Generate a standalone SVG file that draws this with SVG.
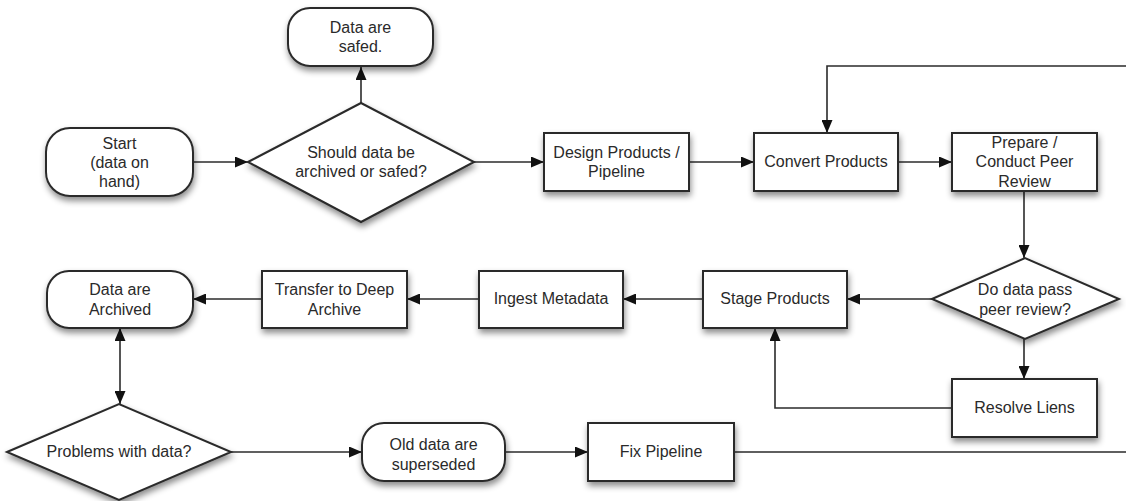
<svg xmlns="http://www.w3.org/2000/svg" width="1126" height="501" viewBox="0 0 1126 501">
<style>
.n{fill:#fff;stroke:#2b2b2b;stroke-width:2;filter:url(#sh)}
.t{font-family:"Liberation Sans",Arial,sans-serif;font-size:16px;fill:#2a2a2a;text-anchor:middle}
.c{fill:none;stroke:#2b2b2b;stroke-width:1.6;marker-end:url(#ah)}
.nc{fill:none;stroke:#2b2b2b;stroke-width:1.6}
</style>
<defs>
<filter id="sh" x="-20%" y="-20%" width="140%" height="160%">
<feDropShadow dx="1" dy="4" stdDeviation="3" flood-color="#000" flood-opacity="0.45"/>
</filter>
<marker id="ah" markerUnits="userSpaceOnUse" markerWidth="13" markerHeight="11" refX="13" refY="5.5" orient="auto-start-reverse">
<path d="M0,0 L13,5.5 L0,11 z" fill="#111"/>
</marker>
</defs>
<rect width="1126" height="501" fill="#fff"/>
<g id="connectors">
<path class="c" d="M193,162 H248"/>
<path class="c" d="M361,103 V67"/>
<path class="c" d="M474,162 H544"/>
<path class="c" d="M689,162 H754"/>
<path class="c" d="M898,162 H952"/>
<path class="c" d="M1024,191 V258"/>
<path class="c" d="M932,299 H847"/>
<path class="c" d="M1024,339 V379"/>
<path class="c" d="M952,408 H775 V328"/>
<path class="c" d="M703,299 H623"/>
<path class="c" d="M479,299 H407"/>
<path class="c" d="M262,299 H193"/>
<path class="c" d="M120,328 V404" marker-start="url(#ah)"/>
<path class="c" d="M231,452 H362"/>
<path class="c" d="M505,452 H588"/>
<path class="c" d="M734,452 H1140 V66 H827 V133"/>
</g>
<g id="start"><rect class="n" x="46" y="128" width="147" height="68" rx="24"/>
<text class="t" x="119.5" y="149">Start</text><text class="t" x="119.5" y="168">(data on</text><text class="t" x="119.5" y="187">hand)</text></g>
<g id="safed"><rect class="n" x="288" y="8" width="145" height="58" rx="22"/>
<text class="t" x="360.5" y="33">Data are</text><text class="t" x="360.5" y="52">safed.</text></g>
<g id="decision-archive"><polygon class="n" points="248,162 361,103 474,162 361,222"/>
<text class="t" x="361" y="158">Should data be</text><text class="t" x="361" y="177">archived or safed?</text></g>
<g id="design"><rect class="n" x="544" y="133" width="145" height="58"/>
<text class="t" x="616.5" y="158">Design Products /</text><text class="t" x="616.5" y="177">Pipeline</text></g>
<g id="convert"><rect class="n" x="754" y="133" width="144" height="58"/>
<text class="t" x="826" y="167">Convert Products</text></g>
<g id="prepare"><rect class="n" x="952" y="133" width="145" height="58"/>
<text class="t" x="1024.5" y="148">Prepare /</text><text class="t" x="1024.5" y="167">Conduct Peer</text><text class="t" x="1024.5" y="187">Review</text></g>
<g id="decision-review"><polygon class="n" points="932,299 1025,258 1119,299 1025,339"/>
<text class="t" x="1025" y="295">Do data pass</text><text class="t" x="1025" y="315">peer review?</text></g>
<g id="stage"><rect class="n" x="703" y="271" width="144" height="57"/>
<text class="t" x="775" y="304">Stage Products</text></g>
<g id="ingest"><rect class="n" x="479" y="271" width="144" height="57"/>
<text class="t" x="551" y="304">Ingest Metadata</text></g>
<g id="transfer"><rect class="n" x="262" y="271" width="145" height="57"/>
<text class="t" x="334.5" y="295">Transfer to Deep</text><text class="t" x="334.5" y="315">Archive</text></g>
<g id="archived"><rect class="n" x="47" y="271" width="146" height="57" rx="22"/>
<text class="t" x="120" y="295">Data are</text><text class="t" x="120" y="315">Archived</text></g>
<g id="resolve"><rect class="n" x="952" y="379" width="145" height="58"/>
<text class="t" x="1024.5" y="413">Resolve Liens</text></g>
<g id="problems"><polygon class="n" points="7,452 119,404 231,452 119,500"/>
<text class="t" x="119" y="457">Problems with data?</text></g>
<g id="old"><rect class="n" x="362" y="423" width="143" height="58" rx="22"/>
<text class="t" x="433.5" y="450">Old data are</text><text class="t" x="433.5" y="470">superseded</text></g>
<g id="fix"><rect class="n" x="588" y="423" width="146" height="58"/>
<text class="t" x="661" y="457">Fix Pipeline</text></g>
</svg>
